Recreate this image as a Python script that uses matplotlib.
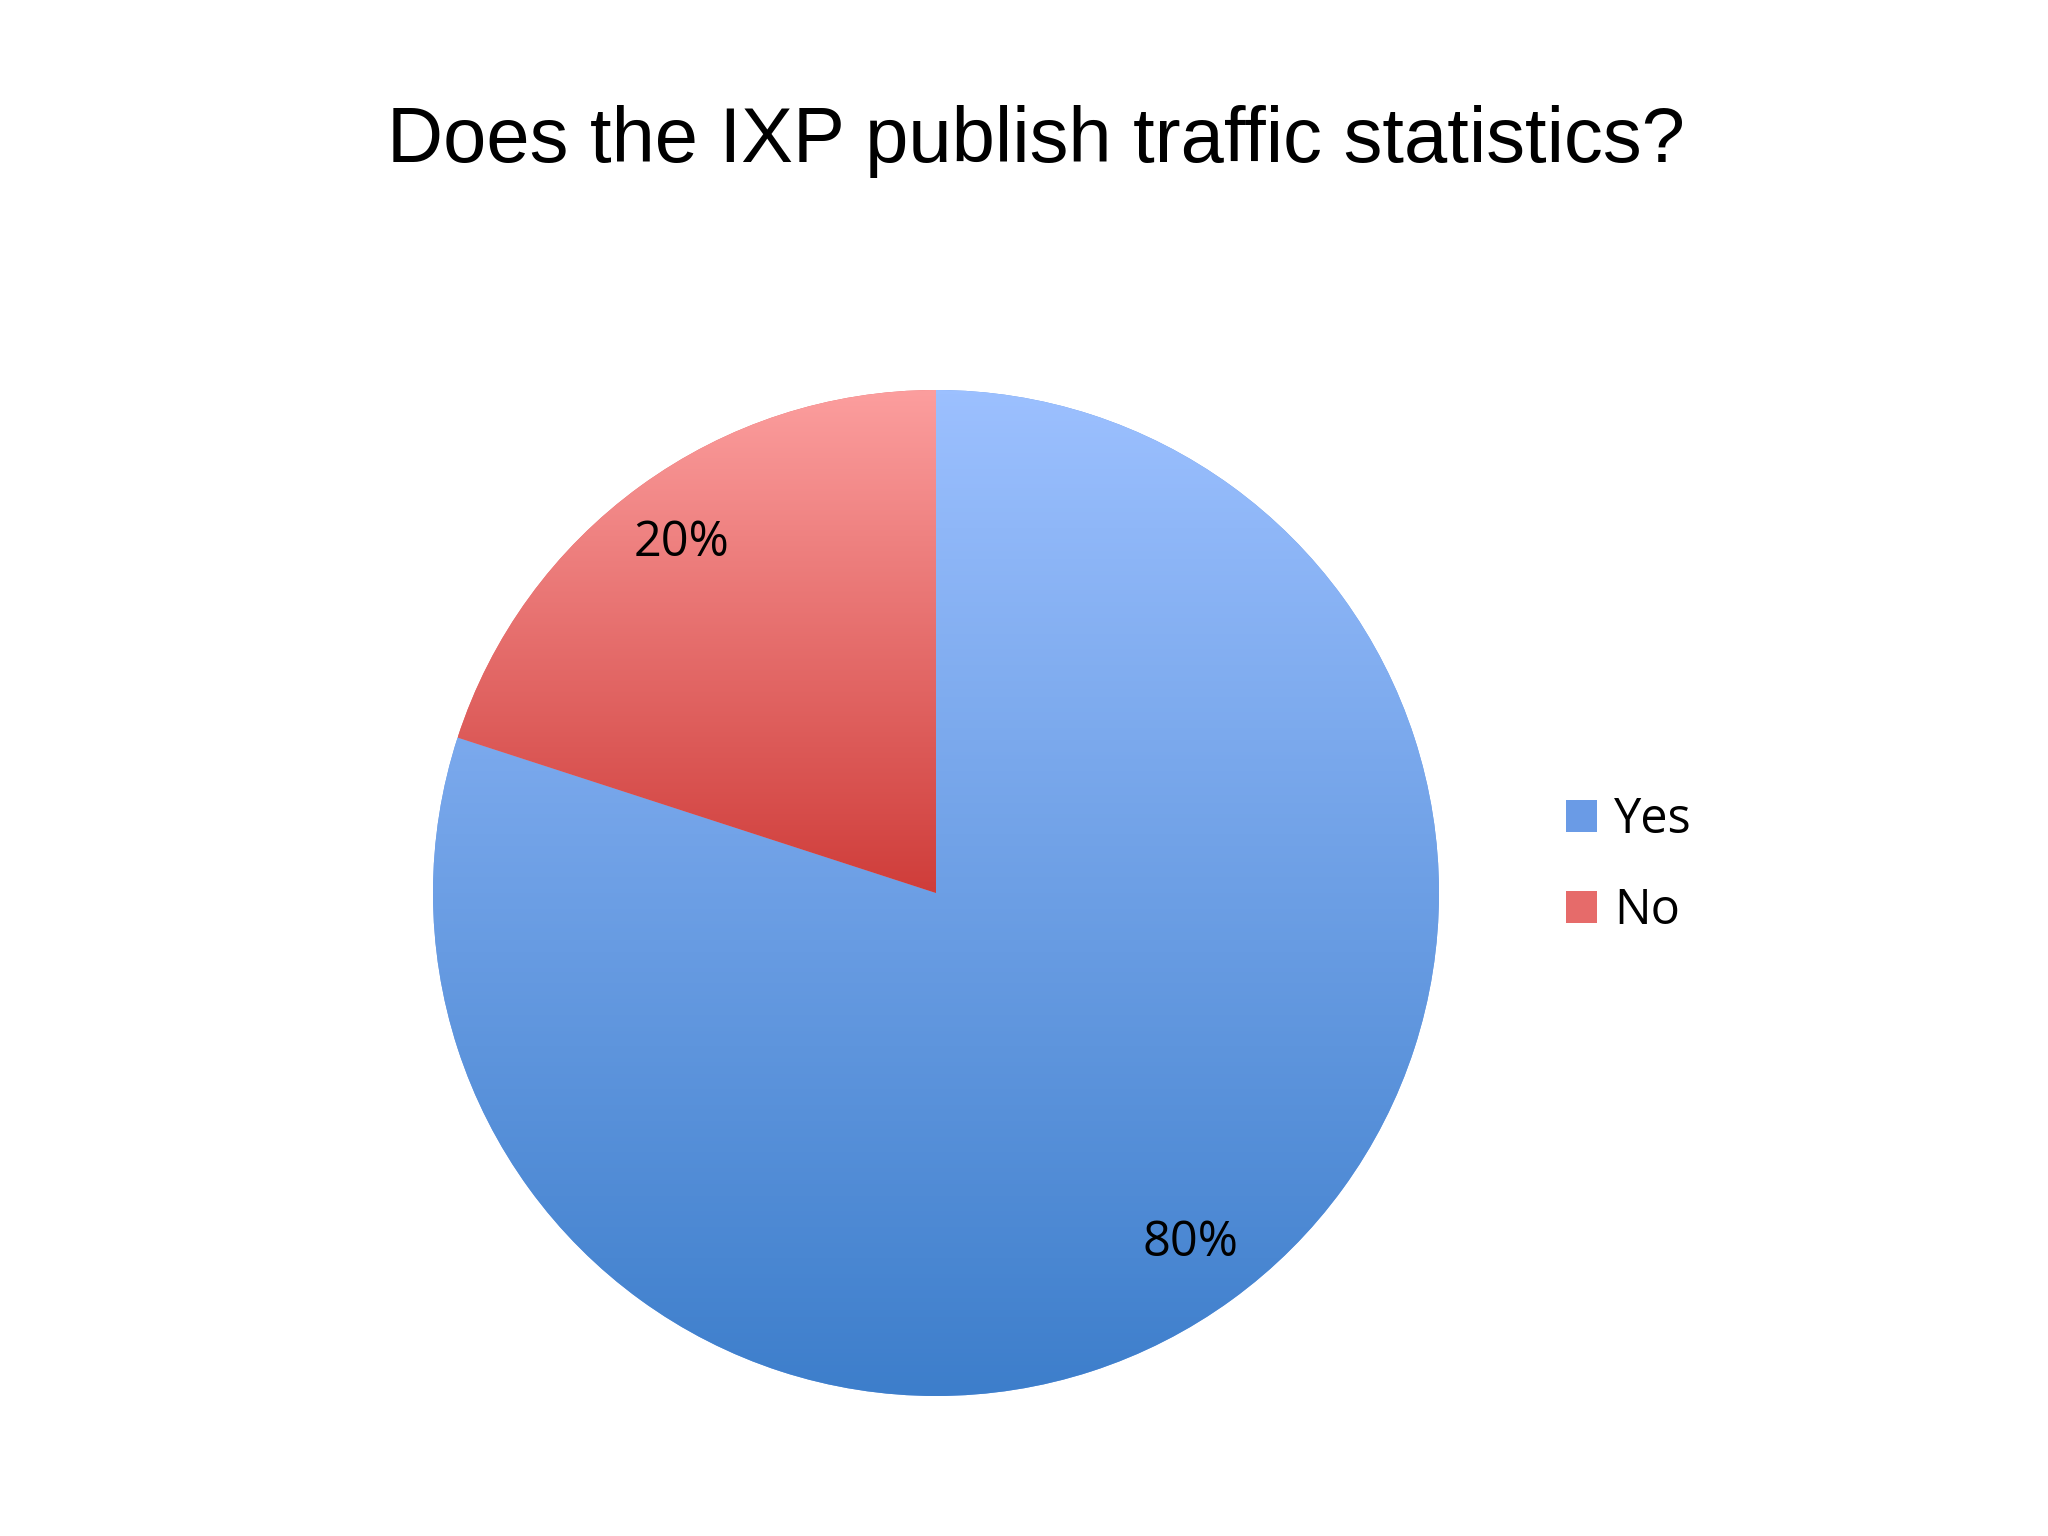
import numpy as np
import matplotlib
matplotlib.use("Agg")
import matplotlib.pyplot as plt
from matplotlib.colors import LinearSegmentedColormap

# datos
labels = ['Yes', 'No']
values = [80, 20]
top_colors = ['#9CC0FF', '#FC9E9E']
bottom_colors = ['#3D7ECB', '#CF3D3A']
mid_colors = ['#6A9BE6', '#E66B6A']

fig = plt.figure(figsize=(20.48, 15.36), dpi=100)
fig.text(0.506, 0.908, 'Does the IXP publish traffic statistics?', ha='center', va='center',
         fontsize=56, family='Liberation Sans')

ax = fig.add_axes([433/2048, 140/1536, 1006/2048, 1006/1536])
wedges, _, autotexts = ax.pie(values, startangle=90, counterclock=False, colors=mid_colors,
                              autopct='%d%%', pctdistance=0.86, radius=1,
                              textprops=dict(fontsize=35, family='Open Sans'))

# relleno con degradado vertical (claro arriba, oscuro abajo), recortado a cada porción
for w, ct, cb in zip(wedges, top_colors, bottom_colors):
    bb = w.get_path().get_extents(w.get_patch_transform())
    cmap = LinearSegmentedColormap.from_list('g', [ct, cb])
    grad = np.linspace(0, 1, 256).reshape(-1, 1)
    im = ax.imshow(grad, cmap=cmap, aspect='auto', extent=[bb.x0, bb.x1, bb.y0, bb.y1],
                   zorder=w.get_zorder(), origin='upper')
    im.set_clip_path(w)
for t in autotexts:
    t.set_zorder(5)
ax.set_xlim(-1, 1); ax.set_ylim(-1, 1)
ax.set_aspect('equal'); ax.axis('off')

fig.legend(wedges, labels, loc='upper left', bbox_to_anchor=(1522/2048, 1 - 752/1536),
           frameon=False, prop=dict(family='Open Sans', size=35),
           handlelength=0.65, handleheight=0.65, handletextpad=0.35, labelspacing=0.85)

plt.savefig('out.png', dpi=100)
